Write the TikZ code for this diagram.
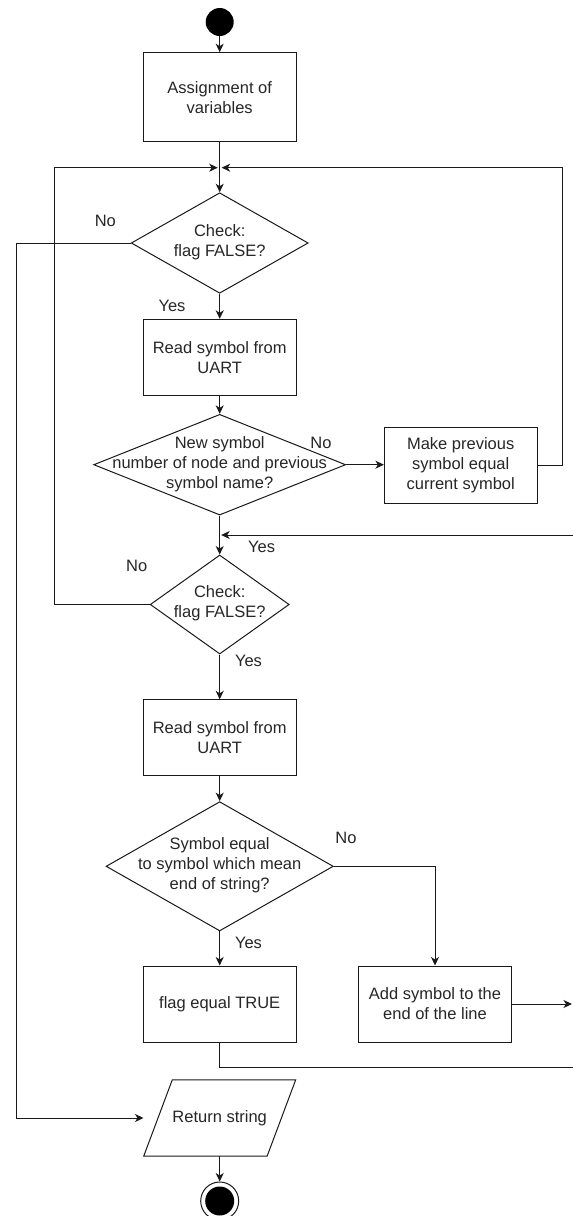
\documentclass[tikz,border=0pt]{standalone}
\usepackage{fontspec}
\setmainfont{Liberation Sans}
\usetikzlibrary{shapes.geometric,arrows.meta,calc}
\begin{document}
\begin{tikzpicture}[x=1pt,y=-1pt,
  every node/.style={font=\fontsize{16.5}{20}\selectfont, text=black!85},
  line/.style={line width=1pt, draw=black!90},
  arr/.style={line, -{Stealth[length=8.5pt,width=8pt,inset=2.5pt]}},
  box/.style={rectangle, draw=black!90, line width=1pt, minimum width=152.6pt, minimum height=76pt, align=center, inner sep=0pt},
  dia/.style={diamond, draw=black!90, line width=1pt, inner sep=0pt},
  txt/.style={align=center, inner sep=0pt},
  lab/.style={inner sep=0pt}
]
\useasboundingbox (0,0) rectangle (573,1216);

% nodes
\node[circle, fill=black, minimum size=28pt, inner sep=0pt] (start) at (219.7,22) {};
\node[box, minimum height=89pt] (b1) at (219.7,97.2) {Assignment of\\variables};
\node[dia, minimum width=177pt, minimum height=100.5pt] (d1) at (219.7,243) {};
\node[txt] (d1t) at (219.7,242.5) {Check:\\flag FALSE?};
\node[box] (b2) at (219.7,357.3) {Read symbol from\\UART};
\node[dia, minimum width=252pt, minimum height=100.7pt] (d2) at (219.7,464.7) {};
\node[txt] (d2t) at (219.7,464) {New symbol\\number of node and previous\\symbol name?};
\node[box] (b3) at (460.7,465) {Make previous\\symbol equal\\current symbol};
\node[dia, minimum width=139pt, minimum height=99pt] (d3) at (219.7,604.5) {};
\node[txt] (d3t) at (219.7,603.7) {Check:\\flag FALSE?};
\node[box] (b4) at (219.7,737.8) {Read symbol from\\UART};
\node[dia, minimum width=227.3pt, minimum height=129.3pt] (d4) at (219.7,866.3) {};
\node[txt] (d4t) at (219.7,865.5) {Symbol equal\\to symbol which mean\\end of string?};
\node[box] (b6) at (219.7,1004) {flag equal TRUE};
\node[box] (b5) at (435,1004) {Add symbol to the\\end of the line};
\node[rectangle, minimum width=123pt, minimum height=76pt, inner sep=0pt] (ret) at (219.7,1118) {Return string};
\draw[line] ($(ret.south west)+(-14.3,0)$) -- ($(ret.north west)+(14.3,0)$) -- ($(ret.north east)+(14.3,0)$) -- ($(ret.south east)+(-14.3,0)$) -- cycle;
\node[circle, draw=black!90, line width=1pt, minimum size=38pt, inner sep=0pt] (endo) at (219.7,1201) {};
\node[circle, fill=black, minimum size=29pt, inner sep=0pt] (endi) at (endo.center) {};

% labels
\node[lab] (l1) at (105.3,221) {No};
\node[lab] (l2) at (172,306) {Yes};
\node[lab] (l3) at (321,443) {No};
\node[lab] (l4) at (261.7,546.7) {Yes};
\node[lab] (l5) at (136.7,566) {No};
\node[lab] (l6) at (248.5,661) {Yes};
\node[lab] (l7) at (346,838.3) {No};
\node[lab] (l8) at (248.5,943.3) {Yes};

% helper coordinates
\coordinate (m) at (219.7,167.7);
\coordinate (cL1) at (54.5,167.7);
\coordinate (cR1) at (562,167.7);
\coordinate (cL2) at (16.4,1118);
\coordinate (cJ) at (219.7,535);
\coordinate (cE1) at (576,535);
\coordinate (cE2) at (572,1004);
\coordinate (cE3) at (576,1067.3);

% connectors
\draw[arr] (start) -- (b1);
\draw[arr] (b1) -- (d1);
\draw[arr, shorten >=2pt] (d3.west) -| (cL1) -- (m);
\draw[arr, shorten >=2pt] (b3.east) -| (cR1) -- (m);
\draw[arr, shorten >=14.5pt] (d1.west) -| (cL2) -- (ret.west);
\draw[arr] (d1) -- (b2);
\draw[arr] (b2) -- (d2);
\draw[arr] (d2.east) -- (d2.east -| b3.west);
\draw[arr] (d2) -- (d3);
\draw[arr, shorten >=1.5pt] (cE1) -- (cJ);
\draw[arr] (d3) -- (b4);
\draw[arr] (b4) -- (d4);
\draw[arr] (d4) -- (b6);
\draw[arr] (d4.east) -| (b5.north);
\draw[arr] (b5.east) -- (cE2);
\draw[line] (b6.south) |- (cE3);
\draw[arr] (ret) -- (endo);
\end{tikzpicture}
\end{document}
